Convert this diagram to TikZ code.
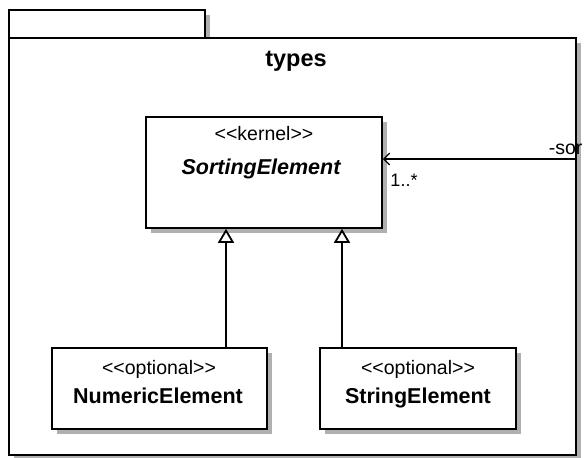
\documentclass[tikz,border=0pt]{standalone}
\usepackage{fontspec}
\usetikzlibrary{arrows.meta,shadows}
\newfontfamily\umlfont{Liberation Sans}
\definecolor{shd}{RGB}{176,176,176}
\begin{document}
\begin{tikzpicture}[x=1pt,y=-1pt,line width=1.6pt,font=\umlfont,
  shbox/.style={draw=black,fill=white,rectangle,inner sep=0pt,
    general shadow={fill=shd,shadow xshift=5pt,shadow yshift=-5pt}},
  stereo/.style={font=\umlfont\fontsize{19.5}{22}\selectfont,inner sep=0pt,anchor=base},
  cname/.style={font=\umlfont\bfseries\fontsize{21.5}{24}\selectfont,inner sep=0pt,anchor=base},
  gen/.style={-{Triangle[length=14pt,width=16pt,fill=white]},line width=1.8pt},
  assoc/.style={-{Straight Barb[length=6pt,width=12pt]},line width=1.3pt},
  lbl/.style={font=\umlfont\fontsize{18}{20}\selectfont,inner sep=0pt,anchor=base}]
\useasboundingbox (0,0) rectangle (585,457);
\clip (0,0) rectangle (585,457);
% package
\node[shbox,minimum width=196pt,minimum height=28pt] (tab) at (107,24) {};
\node[shbox,minimum width=567pt,minimum height=417pt] (pkg) at (292.5,246.5) {};
\node[font=\umlfont\bfseries\fontsize{23.5}{26}\selectfont,inner sep=0pt,anchor=base] (pname) at (296,67) {types};
% classes
\node[shbox,minimum width=236pt,minimum height=111pt] (se) at (264,172.5) {};
\node[stereo] (sest) at (264,141) {<\kern0pt<kernel>\kern0pt>};
\node[cname,font=\umlfont\bfseries\itshape\fontsize{21.5}{24}\selectfont] (sena) at (261,174) {SortingElement};
\node[shbox,minimum width=215pt,minimum height=81pt] (ne) at (159.5,388.5) {};
\node[stereo] (nest) at (159,374) {<\kern0pt<optional>\kern0pt>};
\node[cname] (nena) at (158,403) {NumericElement};
\node[shbox,minimum width=196pt,minimum height=81pt] (str) at (418,388.5) {};
\node[stereo] (strst) at (418,374) {<\kern0pt<optional>\kern0pt>};
\node[cname] (strna) at (418,403) {StringElement};
% generalizations
\coordinate (g1) at (226,228);
\coordinate (g2) at (342,228);
\draw[gen] (ne.north -| g1) -- (se.south -| g1);
\draw[gen] (str.north -| g2) -- (se.south -| g2);
% association
\coordinate (ay) at (0,159);
\draw[assoc] (pkg.east |- ay) -- (se.east |- ay);
\node[lbl] (mult) at (404,186) {1..*};
\node[font=\umlfont\fontsize{19.5}{22}\selectfont,inner sep=0pt,anchor=base west] (role) at (548,154) {-sor};
\end{tikzpicture}
\end{document}
